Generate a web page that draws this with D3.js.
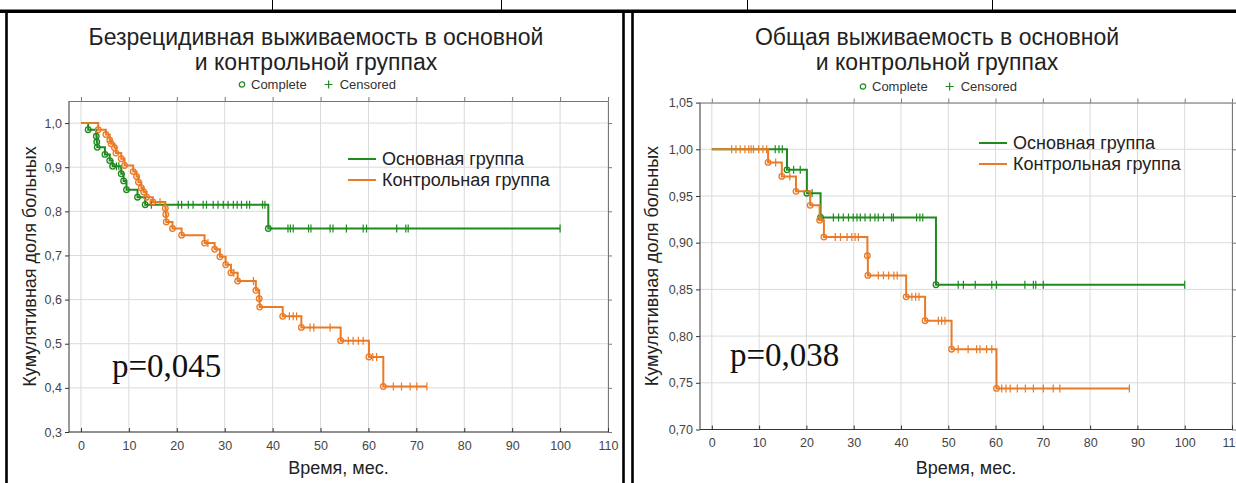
<!DOCTYPE html>
<html>
<head>
<meta charset="utf-8">
<script src="https://cdn.jsdelivr.net/npm/d3@7"></script>
<style>
  body { margin: 0; background: #fff; }
  svg { display: block; font-family: Arial, "Liberation Sans", sans-serif; }
  .grid line { stroke: #dadada; stroke-width: 1; }
  .axis path, .axis line { stroke: #333; }
  .axis text { fill: #444; font-size: 12.5px; }
  .frame path, .frame line { stroke: #777; }
  .frame text { display: none; }
  .title { fill: #222; font-size: 23px; text-anchor: middle; }
  .axis-title { fill: #222; font-size: 18px; text-anchor: middle; }
  .legend text { fill: #222; font-size: 18px; }
  .header text { fill: #333; font-size: 13px; }
  .pval { fill: #111; font-family: "Liberation Serif", "DejaVu Serif", serif; font-size: 33px; }
</style>
</head>
<body>
<svg id="chart" width="1236" height="483"></svg>
<script>
  const xTicks = [0, 10, 20, 30, 40, 50, 60, 70, 80, 90, 100, 110];
  const rfsYTicks = [0.3, 0.4, 0.5, 0.6, 0.7, 0.8, 0.9, 1.0];
  const osYTicks = [0.70, 0.75, 0.80, 0.85, 0.90, 0.95, 1.00, 1.05];
  const groupNames = ['Основная группа', 'Контрольная группа'];
  const headerLabels = ['Complete', 'Censored'];

  // безрецидивная выживаемость: [время, доля], шаги Каплана-Мейера
  const rfsMainSteps = [[0, 1], [1.5, 0.985], [3.2, 0.970], [3.3, 0.957], [3.4, 0.945], [5.0, 0.929],
    [6.0, 0.915], [6.6, 0.902], [8.4, 0.885], [8.9, 0.869], [9.5, 0.849], [11.8, 0.832],
    [13.4, 0.815], [39.1, 0.761]];
  const rfsMainCensored = [7.4, 7.9, 14.7, 20.3, 21.0, 22.4, 23.4, 25.5, 26.2, 27.6, 28.6, 29.7,
    30.7, 31.8, 32.6, 33.5, 34.6, 35.2, 37.9, 38.4, 43.2, 43.7, 44.3, 47.5, 48.0, 52.0, 52.6,
    55.4, 58.9, 59.6, 65.9, 67.8, 68.3, 100];
  const rfsCtrlSteps = [[0, 1], [3.6, 0.985], [5.2, 0.974], [6.0, 0.961], [6.3, 0.953], [7.0, 0.944],
    [7.3, 0.932], [8.4, 0.919], [9.1, 0.904], [10.9, 0.890], [11.6, 0.879], [12.0, 0.866],
    [12.6, 0.853], [13.1, 0.844], [13.7, 0.832], [15.0, 0.821], [17.6, 0.807], [17.7, 0.793],
    [17.8, 0.776], [19.1, 0.761], [21.0, 0.746], [25.8, 0.728], [27.9, 0.714], [29.0, 0.697],
    [30.2, 0.679], [31.3, 0.661], [32.7, 0.642], [36.5, 0.621], [37.2, 0.602], [37.3, 0.583],
    [42.1, 0.562], [46.0, 0.537], [54.2, 0.507], [60.1, 0.470], [63.1, 0.403]];
  const rfsCtrlCensored = [16.5, 26.5, 31.9, 36.0, 43.5, 44.3, 45.0, 47.8, 48.6, 52.0, 55.8, 56.8,
    57.9, 58.9, 60.9, 61.7, 65.2, 66.9, 68.7, 70.1, 72.2];

  // общая выживаемость
  const osMainSteps = [[0, 1], [15.9, 0.978], [20.1, 0.953], [23.0, 0.927], [47.4, 0.855]];
  const osMainCensored = [13.4, 14.2, 14.9, 17.3, 18.7, 21.2, 25.7, 26.8, 27.8, 28.9, 29.9, 30.7,
    31.4, 32.4, 33.5, 34.5, 35.2, 36.3, 38.0, 38.4, 43.3, 44.0, 44.6, 52.1, 53.2, 55.7, 59.2,
    60.2, 66.2, 68.0, 68.5, 70.1, 100];
  const osCtrlSteps = [[0, 1], [11.9, 0.986], [14.8, 0.971], [17.8, 0.955], [20.8, 0.940],
    [22.8, 0.924], [23.7, 0.906], [32.9, 0.886], [33.0, 0.865], [41.1, 0.842], [45.1, 0.8165],
    [50.7, 0.786], [60.2, 0.744]];
  const osCtrlCensored = [4.2, 5.1, 6.0, 7.0, 7.8, 8.3, 8.8, 9.9, 10.8, 11.6, 13.5, 16.5, 26.1,
    27.2, 28.6, 29.6, 30.3, 31.0, 35.2, 36.3, 37.4, 38.5, 39.2, 42.3, 43.1, 43.8, 47.9, 48.6,
    49.3, 52.1, 54.2, 56.0, 56.7, 58.1, 59.2, 61.3, 62.2, 63.1, 64.6, 66.3, 68.0, 70.1, 72.2,
    73.6, 88.3];

  const green = '#1f8a1f';
  const orange = '#ea7a26';

  const ru = d3.formatLocale({decimal: ',', thousands: ' ', grouping: [3], currency: ['', '']});

  const svg = d3.select('#chart');

  //// table borders
  svg.append('rect').attr('x', 0).attr('y', 9.5).attr('width', 1236).attr('height', 3.5).attr('fill', '#000');
  [272, 501, 747, 992].forEach(x => {
    svg.append('line').attr('x1', x + 0.5).attr('x2', x + 0.5).attr('y1', 0).attr('y2', 10)
      .attr('stroke', '#000');
  });
  [6.5, 623.5, 632.5].forEach(x => {
    svg.append('rect').attr('x', x - 1.3).attr('y', 12).attr('width', 2.6).attr('height', 471)
      .attr('fill', '#000');
  });

  function valueAt(steps, t) {
    let v = steps[0][1];
    steps.forEach(s => { if (s[0] <= t) v = s[1]; });
    return v;
  }

  function drawPanel(cfg) {
    const g = svg.append('g');
    const x = d3.scaleLinear().domain([-2.5, 110]).range([cfg.left, cfg.right]);
    const y = d3.scaleLinear().domain(cfg.yDomain).range([cfg.bottom, cfg.top]);

    // grid
    const grid = g.append('g').attr('class', 'grid');
    grid.selectAll('.gx').data(xTicks).enter().append('line')
      .attr('x1', d => x(d)).attr('x2', d => x(d)).attr('y1', cfg.top).attr('y2', cfg.bottom);
    grid.selectAll('.gy').data(cfg.yTicks).enter().append('line')
      .attr('x1', cfg.left).attr('x2', cfg.right).attr('y1', d => y(d)).attr('y2', d => y(d));

    // axes
    g.append('g').attr('class', 'frame').attr('transform', `translate(0,${cfg.top})`)
      .call(d3.axisTop(x).tickValues(xTicks).tickSizeInner(4).tickSizeOuter(0));
    g.append('g').attr('class', 'frame').attr('transform', `translate(${cfg.right},0)`)
      .call(d3.axisRight(y).tickValues(cfg.yTicks).tickSizeInner(4).tickSizeOuter(0));
    g.append('g').attr('class', 'axis').attr('transform', `translate(0,${cfg.bottom})`)
      .call(d3.axisBottom(x).tickValues(xTicks).tickSizeInner(-4).tickSizeOuter(0).tickPadding(9))
      .call(a => a.select('.domain').attr('d', `M${cfg.left},0H${cfg.right}`));
    g.append('g').attr('class', 'axis').attr('transform', `translate(${cfg.left},0)`)
      .call(d3.axisLeft(y).tickValues(cfg.yTicks).tickSizeInner(4).tickSizeOuter(0)
        .tickFormat(ru.format(cfg.yFormat)))
      .call(a => a.select('.domain').attr('d', `M0,${cfg.top}V${cfg.bottom}`));

    // curves
    const line = d3.line().curve(d3.curveStepAfter).x(d => x(d[0])).y(d => y(d[1]));
    cfg.series.forEach(s => {
      const end = d3.max(s.censored);
      const pts = s.steps.concat([[end, s.steps[s.steps.length - 1][1]]]);
      const sg = g.append('g');
      sg.append('path').datum(pts).attr('d', line)
        .attr('fill', 'none').attr('stroke', s.color).attr('stroke-width', 2);
      sg.selectAll('.cens').data(s.censored).enter().append('line')
        .attr('x1', d => x(d)).attr('x2', d => x(d))
        .attr('y1', d => y(valueAt(s.steps, d)) - 4).attr('y2', d => y(valueAt(s.steps, d)) + 4)
        .attr('stroke', s.color).attr('stroke-width', 1.2);
      sg.selectAll('.comp').data(s.steps.slice(1)).enter().append('circle')
        .attr('cx', d => x(d[0])).attr('cy', d => y(d[1])).attr('r', 2.8)
        .attr('fill', 'none').attr('stroke', s.color).attr('stroke-width', 1.3);
    });

    // titles
    cfg.title.forEach((t, i) => {
      g.append('text').attr('class', 'title').attr('x', cfg.center).attr('y', cfg.titleY + i * 25).text(t);
    });
    g.append('text').attr('class', 'axis-title').attr('x', (cfg.left + cfg.right) / 2).attr('y', cfg.xTitleY)
      .text('Время, мес.');
    g.append('text').attr('class', 'axis-title')
      .attr('transform', `translate(${cfg.yTitleX},${(cfg.top + cfg.bottom) / 2}) rotate(-90)`)
      .text('Кумулятивная доля больных');

    // Complete / Censored header
    const hd = g.append('g').attr('class', 'header');
    hd.append('circle').attr('cx', 0).attr('cy', -4.5).attr('r', 2.7)
      .attr('fill', 'none').attr('stroke', green).attr('stroke-width', 1.2);
    const t1 = hd.append('text').attr('x', 9).attr('y', 0).text(headerLabels[0]);
    const w1 = t1.node().getComputedTextLength();
    const px = 9 + w1 + 22;
    hd.append('path').attr('d', `M${px - 4},-4.5H${px + 4}M${px},-8.5V-0.5`)
      .attr('stroke', green).attr('stroke-width', 1.2);
    const t2 = hd.append('text').attr('x', px + 11).attr('y', 0).text(headerLabels[1]);
    const total = px + 11 + t2.node().getComputedTextLength();
    hd.attr('transform', `translate(${cfg.center - total / 2 + 3},${cfg.headerY})`);

    // legend
    const lg = g.append('g').attr('class', 'legend');
    cfg.series.forEach((s, i) => {
      const ly = cfg.legendY + i * 21;
      lg.append('line').attr('x1', cfg.legendX).attr('x2', cfg.legendX + 28)
        .attr('y1', ly).attr('y2', ly).attr('stroke', s.color).attr('stroke-width', 2);
      lg.append('text').attr('x', cfg.legendX + 34).attr('y', ly + 6).text(s.name);
    });

    g.append('text').attr('class', 'pval').attr('x', cfg.pX).attr('y', cfg.pY).text(cfg.p);
  }

  drawPanel({
    left: 69, right: 608, top: 101, bottom: 432,
    yDomain: [0.3, 1.05], yTicks: rfsYTicks, yFormat: '.1f',
    center: 316, titleY: 45, headerY: 89, xTitleY: 474, yTitleX: 36,
    title: ['Безрецидивная выживаемость в основной', 'и контрольной группах'],
    legendX: 348, legendY: 159, pX: 112, pY: 377, p: 'p=0,045',
    series: [
      {name: groupNames[0], color: green, steps: rfsMainSteps, censored: rfsMainCensored},
      {name: groupNames[1], color: orange, steps: rfsCtrlSteps, censored: rfsCtrlCensored}
    ]
  });

  drawPanel({
    left: 700, right: 1232, top: 102.6, bottom: 429.5,
    yDomain: [0.70, 1.05], yTicks: osYTicks, yFormat: '.2f',
    center: 937, titleY: 45, headerY: 91, xTitleY: 474, yTitleX: 658,
    title: ['Общая выживаемость в основной', 'и контрольной группах'],
    legendX: 979, legendY: 143, pX: 730, pY: 366, p: 'p=0,038',
    series: [
      {name: groupNames[0], color: green, steps: osMainSteps, censored: osMainCensored},
      {name: groupNames[1], color: orange, steps: osCtrlSteps, censored: osCtrlCensored}
    ]
  });
</script>
</body>
</html>
